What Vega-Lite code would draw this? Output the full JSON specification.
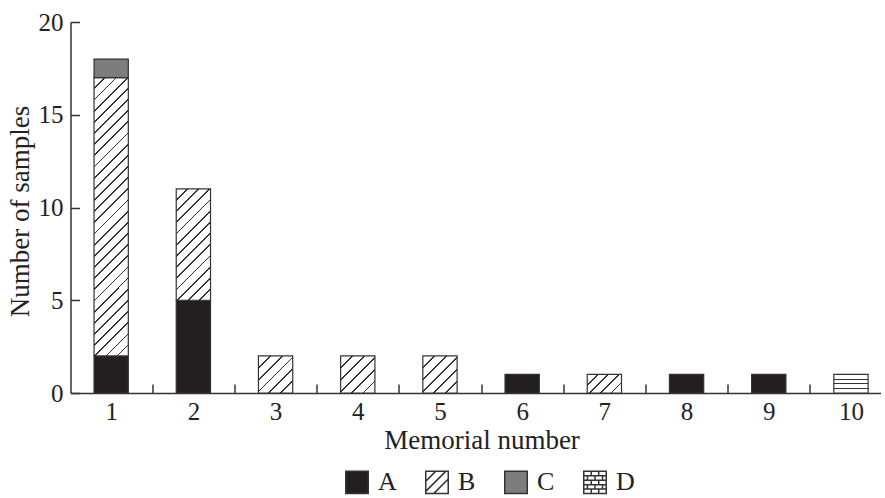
{
  "$schema": "https://vega.github.io/schema/vega-lite/v6.json",
  "autosize": "none",
  "padding": {"left": 70.5, "top": 22, "right": 4.5, "bottom": 105},
  "width": 810,
  "height": 371,
  "background": "white",
  "config": {
    "view": {"stroke": null},
    "axis": {
      "domain": true, "domainColor": "#333", "domainWidth": 1.5, "domainOpacity": 1,
      "tickColor": "#333", "tickWidth": 1.5, "tickSize": -9,
      "labelFont": "Liberation Serif", "labelFontSize": 25, "labelColor": "#222",
      "titleFont": "Liberation Serif", "titleFontSize": 27, "titleFontWeight": "normal", "titleColor": "#222",
      "grid": false
    }
  },
  "data": {
    "values": [
      {"memorial": 1, "type": "A", "count": 2},
      {"memorial": 1, "type": "B", "count": 15},
      {"memorial": 1, "type": "C", "count": 1},
      {"memorial": 2, "type": "A", "count": 5},
      {"memorial": 2, "type": "B", "count": 6},
      {"memorial": 3, "type": "B", "count": 2},
      {"memorial": 4, "type": "B", "count": 2},
      {"memorial": 5, "type": "B", "count": 2},
      {"memorial": 6, "type": "A", "count": 1},
      {"memorial": 7, "type": "B", "count": 1},
      {"memorial": 8, "type": "A", "count": 1},
      {"memorial": 9, "type": "A", "count": 1},
      {"memorial": 10, "type": "D", "count": 1}
    ]
  },
  "transform": [
    {"stack": "count", "groupby": ["memorial"], "sort": [{"field": "type", "order": "ascending"}], "as": ["lo", "hi"]}
  ],
  "mark": {"type": "bar", "stroke": "#333", "strokeWidth": 1.2},
  "encoding": {
    "x": {
      "field": "memorial", "type": "ordinal",
      "scale": {"paddingInner": 0.583, "paddingOuter": 0.2186, "align": 0.655},
      "axis": {"labelAngle": 0, "bandPosition": 1, "tickOffset": 24, "labelOffset": -24, "tickExtra": false, "labelPadding": 15, "title": "Memorial number", "titleBaseline": "alphabetic", "titleX": 411, "titleY": 55}
    },
    "y": {
      "field": "lo", "type": "quantitative",
      "scale": {"domain": [0, 20], "nice": false},
      "axis": {"values": [0, 5, 10, 15, 20], "labelPadding": 16.5, "title": "Number of samples", "titleBaseline": "alphabetic", "titleAngle": -90, "titleX": -42.5, "titleY": 189}
    },
    "y2": {"field": "hi"},
    "fill": {
      "field": "type", "type": "nominal",
      "scale": {
        "domain": ["A", "B", "C", "D"],
        "range": ["#231f20", "#ffffff", "#7d7d7d", "#ffffff"]
      },
      "legend": {
        "orient": "none", "legendX": 273.5, "legendY": 447, "direction": "horizontal", "title": null,
        "padding": 0, "columnPadding": 25, "labelOffset": 8,
        "symbolType": {"expr": "datum.value === 'B' ? 'M-1,-1H1V1H-1Z M-1,-0.1L-0.1,-1 M-1,0.8L0.8,-1 M-0.3,1L1,-0.3' : datum.value === 'D' ? 'M-1,-1H1V1H-1Z M-1,-0.6H1 M-1,-0.2H1 M-1,0.2H1 M-1,0.6H1 M-0.33,-1V-0.6 M0.33,-1V-0.6 M0,-0.6V-0.2 M-0.67,-0.6V-0.2 M0.67,-0.6V-0.2 M-0.33,-0.2V0.2 M0.33,-0.2V0.2 M0,0.2V0.6 M-0.67,0.2V0.6 M0.67,0.2V0.6 M-0.33,0.6V1 M0.33,0.6V1' : 'square'"},
        "symbolSize": 506,
        "labelFont": "Liberation Serif", "labelFontSize": 26, "labelColor": "#222",
        "encode": {
          "symbols": {
            "stroke": {"value": "#333"},
            "strokeWidth": {"value": 1.2}
          }
        }
      },
      "condition": [
        {"test": "datum.type === 'B' && datum.count >= 10", "value": {"gradient": "linear", "x1": 0, "y1": 0, "x2": 0.1364, "y2": 1.1065, "stops": [
          {"offset": 0, "color": "#fff"},
          {"offset": 0.0329, "color": "#fff"}, {"offset": 0.0329, "color": "#333"}, {"offset": 0.0386, "color": "#333"}, {"offset": 0.0386, "color": "#fff"},
          {"offset": 0.0686, "color": "#fff"}, {"offset": 0.0686, "color": "#333"}, {"offset": 0.0743, "color": "#333"}, {"offset": 0.0743, "color": "#fff"},
          {"offset": 0.1043, "color": "#fff"}, {"offset": 0.1043, "color": "#333"}, {"offset": 0.1100, "color": "#333"}, {"offset": 0.1100, "color": "#fff"},
          {"offset": 0.1400, "color": "#fff"}, {"offset": 0.1400, "color": "#333"}, {"offset": 0.1457, "color": "#333"}, {"offset": 0.1457, "color": "#fff"},
          {"offset": 0.1757, "color": "#fff"}, {"offset": 0.1757, "color": "#333"}, {"offset": 0.1814, "color": "#333"}, {"offset": 0.1814, "color": "#fff"},
          {"offset": 0.2114, "color": "#fff"}, {"offset": 0.2114, "color": "#333"}, {"offset": 0.2171, "color": "#333"}, {"offset": 0.2171, "color": "#fff"},
          {"offset": 0.2471, "color": "#fff"}, {"offset": 0.2471, "color": "#333"}, {"offset": 0.2529, "color": "#333"}, {"offset": 0.2529, "color": "#fff"},
          {"offset": 0.2829, "color": "#fff"}, {"offset": 0.2829, "color": "#333"}, {"offset": 0.2886, "color": "#333"}, {"offset": 0.2886, "color": "#fff"},
          {"offset": 0.3186, "color": "#fff"}, {"offset": 0.3186, "color": "#333"}, {"offset": 0.3243, "color": "#333"}, {"offset": 0.3243, "color": "#fff"},
          {"offset": 0.3543, "color": "#fff"}, {"offset": 0.3543, "color": "#333"}, {"offset": 0.3600, "color": "#333"}, {"offset": 0.3600, "color": "#fff"},
          {"offset": 0.3900, "color": "#fff"}, {"offset": 0.3900, "color": "#333"}, {"offset": 0.3957, "color": "#333"}, {"offset": 0.3957, "color": "#fff"},
          {"offset": 0.4257, "color": "#fff"}, {"offset": 0.4257, "color": "#333"}, {"offset": 0.4314, "color": "#333"}, {"offset": 0.4314, "color": "#fff"},
          {"offset": 0.4614, "color": "#fff"}, {"offset": 0.4614, "color": "#333"}, {"offset": 0.4671, "color": "#333"}, {"offset": 0.4671, "color": "#fff"},
          {"offset": 0.4971, "color": "#fff"}, {"offset": 0.4971, "color": "#333"}, {"offset": 0.5029, "color": "#333"}, {"offset": 0.5029, "color": "#fff"},
          {"offset": 0.5329, "color": "#fff"}, {"offset": 0.5329, "color": "#333"}, {"offset": 0.5386, "color": "#333"}, {"offset": 0.5386, "color": "#fff"},
          {"offset": 0.5686, "color": "#fff"}, {"offset": 0.5686, "color": "#333"}, {"offset": 0.5743, "color": "#333"}, {"offset": 0.5743, "color": "#fff"},
          {"offset": 0.6043, "color": "#fff"}, {"offset": 0.6043, "color": "#333"}, {"offset": 0.6100, "color": "#333"}, {"offset": 0.6100, "color": "#fff"},
          {"offset": 0.6400, "color": "#fff"}, {"offset": 0.6400, "color": "#333"}, {"offset": 0.6457, "color": "#333"}, {"offset": 0.6457, "color": "#fff"},
          {"offset": 0.6757, "color": "#fff"}, {"offset": 0.6757, "color": "#333"}, {"offset": 0.6814, "color": "#333"}, {"offset": 0.6814, "color": "#fff"},
          {"offset": 0.7114, "color": "#fff"}, {"offset": 0.7114, "color": "#333"}, {"offset": 0.7171, "color": "#333"}, {"offset": 0.7171, "color": "#fff"},
          {"offset": 0.7471, "color": "#fff"}, {"offset": 0.7471, "color": "#333"}, {"offset": 0.7529, "color": "#333"}, {"offset": 0.7529, "color": "#fff"},
          {"offset": 0.7829, "color": "#fff"}, {"offset": 0.7829, "color": "#333"}, {"offset": 0.7886, "color": "#333"}, {"offset": 0.7886, "color": "#fff"},
          {"offset": 0.8186, "color": "#fff"}, {"offset": 0.8186, "color": "#333"}, {"offset": 0.8243, "color": "#333"}, {"offset": 0.8243, "color": "#fff"},
          {"offset": 0.8543, "color": "#fff"}, {"offset": 0.8543, "color": "#333"}, {"offset": 0.8600, "color": "#333"}, {"offset": 0.8600, "color": "#fff"},
          {"offset": 0.8900, "color": "#fff"}, {"offset": 0.8900, "color": "#333"}, {"offset": 0.8957, "color": "#333"}, {"offset": 0.8957, "color": "#fff"},
          {"offset": 0.9257, "color": "#fff"}, {"offset": 0.9257, "color": "#333"}, {"offset": 0.9314, "color": "#333"}, {"offset": 0.9314, "color": "#fff"},
          {"offset": 0.9614, "color": "#fff"}, {"offset": 0.9614, "color": "#333"}, {"offset": 0.9671, "color": "#333"}, {"offset": 0.9671, "color": "#fff"},
          {"offset": 1, "color": "#fff"}
        ]}},
        {"test": "datum.type === 'B' && datum.count >= 5", "value": {"gradient": "linear", "x1": 0, "y1": 0, "x2": 0.368, "y2": 1.1947, "stops": [
          {"offset": 0, "color": "#fff"},
          {"offset": 0.0708, "color": "#fff"}, {"offset": 0.0708, "color": "#333"}, {"offset": 0.0831, "color": "#333"}, {"offset": 0.0831, "color": "#fff"},
          {"offset": 0.1477, "color": "#fff"}, {"offset": 0.1477, "color": "#333"}, {"offset": 0.1600, "color": "#333"}, {"offset": 0.1600, "color": "#fff"},
          {"offset": 0.2246, "color": "#fff"}, {"offset": 0.2246, "color": "#333"}, {"offset": 0.2369, "color": "#333"}, {"offset": 0.2369, "color": "#fff"},
          {"offset": 0.3015, "color": "#fff"}, {"offset": 0.3015, "color": "#333"}, {"offset": 0.3138, "color": "#333"}, {"offset": 0.3138, "color": "#fff"},
          {"offset": 0.3785, "color": "#fff"}, {"offset": 0.3785, "color": "#333"}, {"offset": 0.3908, "color": "#333"}, {"offset": 0.3908, "color": "#fff"},
          {"offset": 0.4554, "color": "#fff"}, {"offset": 0.4554, "color": "#333"}, {"offset": 0.4677, "color": "#333"}, {"offset": 0.4677, "color": "#fff"},
          {"offset": 0.5323, "color": "#fff"}, {"offset": 0.5323, "color": "#333"}, {"offset": 0.5446, "color": "#333"}, {"offset": 0.5446, "color": "#fff"},
          {"offset": 0.6092, "color": "#fff"}, {"offset": 0.6092, "color": "#333"}, {"offset": 0.6215, "color": "#333"}, {"offset": 0.6215, "color": "#fff"},
          {"offset": 0.6862, "color": "#fff"}, {"offset": 0.6862, "color": "#333"}, {"offset": 0.6985, "color": "#333"}, {"offset": 0.6985, "color": "#fff"},
          {"offset": 0.7631, "color": "#fff"}, {"offset": 0.7631, "color": "#333"}, {"offset": 0.7754, "color": "#333"}, {"offset": 0.7754, "color": "#fff"},
          {"offset": 0.8400, "color": "#fff"}, {"offset": 0.8400, "color": "#333"}, {"offset": 0.8523, "color": "#333"}, {"offset": 0.8523, "color": "#fff"},
          {"offset": 0.9169, "color": "#fff"}, {"offset": 0.9169, "color": "#333"}, {"offset": 0.9292, "color": "#333"}, {"offset": 0.9292, "color": "#fff"},
          {"offset": 1, "color": "#fff"}
        ]}},
        {"test": "datum.type === 'B' && datum.count === 2", "value": {"gradient": "linear", "x1": 0, "y1": 0, "x2": 0.959, "y2": 1.038, "stops": [
          {"offset": 0, "color": "#fff"},
          {"offset": 0.1533, "color": "#fff"}, {"offset": 0.1533, "color": "#333"}, {"offset": 0.18, "color": "#333"}, {"offset": 0.18, "color": "#fff"},
          {"offset": 0.32, "color": "#fff"}, {"offset": 0.32, "color": "#333"}, {"offset": 0.3467, "color": "#333"}, {"offset": 0.3467, "color": "#fff"},
          {"offset": 0.4867, "color": "#fff"}, {"offset": 0.4867, "color": "#333"}, {"offset": 0.5133, "color": "#333"}, {"offset": 0.5133, "color": "#fff"},
          {"offset": 0.6533, "color": "#fff"}, {"offset": 0.6533, "color": "#333"}, {"offset": 0.68, "color": "#333"}, {"offset": 0.68, "color": "#fff"},
          {"offset": 0.82, "color": "#fff"}, {"offset": 0.82, "color": "#333"}, {"offset": 0.8467, "color": "#333"}, {"offset": 0.8467, "color": "#fff"},
          {"offset": 1, "color": "#fff"}
        ]}},
        {"test": "datum.type === 'B' && datum.count === 1", "value": {"gradient": "linear", "x1": 0, "y1": 0, "x2": 1.192, "y2": 0.645, "stops": [
          {"offset": 0, "color": "#fff"},
          {"offset": 0.184, "color": "#fff"}, {"offset": 0.184, "color": "#333"}, {"offset": 0.216, "color": "#333"}, {"offset": 0.216, "color": "#fff"},
          {"offset": 0.384, "color": "#fff"}, {"offset": 0.384, "color": "#333"}, {"offset": 0.416, "color": "#333"}, {"offset": 0.416, "color": "#fff"},
          {"offset": 0.584, "color": "#fff"}, {"offset": 0.584, "color": "#333"}, {"offset": 0.616, "color": "#333"}, {"offset": 0.616, "color": "#fff"},
          {"offset": 0.784, "color": "#fff"}, {"offset": 0.784, "color": "#333"}, {"offset": 0.816, "color": "#333"}, {"offset": 0.816, "color": "#fff"},
          {"offset": 1, "color": "#fff"}
        ]}},
        {"test": "datum.type === 'D'", "value": {"gradient": "linear", "x1": 0, "y1": 0, "x2": 0, "y2": 1, "stops": [
          {"offset": 0, "color": "#fff"},
          {"offset": 0.22, "color": "#fff"}, {"offset": 0.22, "color": "#333"}, {"offset": 0.28, "color": "#333"}, {"offset": 0.28, "color": "#fff"},
          {"offset": 0.47, "color": "#fff"}, {"offset": 0.47, "color": "#333"}, {"offset": 0.53, "color": "#333"}, {"offset": 0.53, "color": "#fff"},
          {"offset": 0.72, "color": "#fff"}, {"offset": 0.72, "color": "#333"}, {"offset": 0.78, "color": "#333"}, {"offset": 0.78, "color": "#fff"},
          {"offset": 1, "color": "#fff"}
        ]}}
      ]
    }
  }
}
